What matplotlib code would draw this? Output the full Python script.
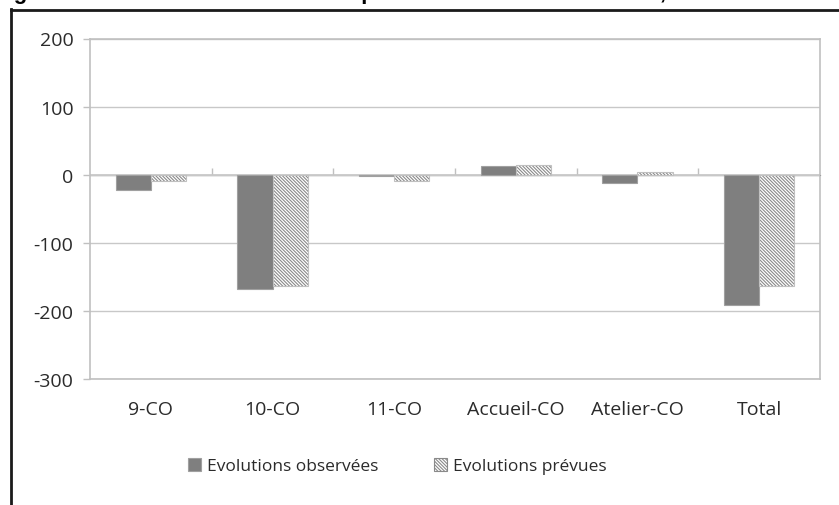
import matplotlib
matplotlib.use("Agg")
import matplotlib.pyplot as plt
from matplotlib.lines import Line2D
from matplotlib.patches import Patch

plt.rcParams['font.family'] = ['Open Sans', 'DejaVu Sans']
plt.rcParams['hatch.linewidth'] = 0.8

categories = ["9-CO", "10-CO", "11-CO", "Accueil-CO", "Atelier-CO", "Total"]
observees = [-23, -168, -2, 13, -12, -192]
prevues = [-9, -164, -9, 14, 4, -163]
y_ticks = [-300, -200, -100, 0, 100, 200]

W, H = 839, 506
fig = plt.figure(figsize=(W / 100, H / 100), dpi=100, facecolor='w')

# titre coupé en haut de l'image (comme sur l'original)
fig.text(-6 / W, 1 + 1 / H, "Figure 3 : Evolutions observées et prévues du nombre d'élèves, 2013",
         fontsize=16, fontweight='bold', family='Liberation Sans',
         ha='left', va='baseline', color='black')

# cadre noir
fig.add_artist(Line2D([10.5 / W, 10.5 / W], [0, 1 - 10 / H], transform=fig.transFigure,
                      color='#1a1a1a', lw=2))
fig.add_artist(Line2D([10.5 / W, 1], [1 - 10.5 / H, 1 - 10.5 / H], transform=fig.transFigure,
                      color='#1a1a1a', lw=2))

ax = fig.add_axes([90 / W, 1 - 380 / H, 730 / W, 340.5 / H])

x = list(range(len(categories)))
w = 0.29
xo = [i - w / 2 for i in x]
xp = [i + w / 2 for i in x]
hatch = '\\' * 10

ax.bar(xo, observees, width=w, color='#7f7f7f', edgecolor='#a0a0a0', lw=0.8, zorder=3)
ax.bar(xp, prevues, width=w, color='white', edgecolor='#8a8a8a', hatch=hatch,
       lw=0, zorder=3)
ax.bar(xp, prevues, width=w, fill=False, edgecolor='#c0c0c0', lw=0.8, zorder=4)

ax.set_xlim(-0.5, len(categories) - 0.5)
ax.set_ylim(y_ticks[0], y_ticks[-1])
ax.set_yticks(y_ticks)
ax.set_yticklabels([str(v) for v in y_ticks])
ax.grid(axis='y', color='#c8c8c8', lw=1, zorder=0)
ax.axhline(0, color='#c8c8c8', lw=1.2, zorder=2)

for s in ax.spines.values():
    s.set_color('#c0c0c0')
    s.set_linewidth(1.2)

ax.tick_params(axis='y', length=5, width=1, color='#c0c0c0', pad=7, labelsize=14,
               labelcolor='#2b2b2b')
ax.set_xticks(x)
ax.set_xticklabels(categories)
ax.tick_params(axis='x', length=0, pad=15, labelsize=14, labelcolor='#2b2b2b')

# petits traits entre catégories sur l'axe 0
y0 = (0 - y_ticks[0]) / (y_ticks[-1] - y_ticks[0])
sec = ax.secondary_xaxis(y0)
sec.set_xticks([i + 0.5 for i in x[:-1]])
sec.set_xticklabels([])
sec.tick_params(axis='x', length=5, width=1, color='#c0c0c0', direction='out')
sec.spines['bottom'].set_visible(False)

handles = [Patch(facecolor='#7f7f7f', edgecolor='#a0a0a0', lw=0.8),
           Patch(facecolor='white', edgecolor='#8a8a8a', hatch=hatch, lw=0.8)]
fig.legend(handles, ["Evolutions observées", "Evolutions prévues"], loc='center',
           bbox_to_anchor=(397 / W, 1 - 467 / H), ncol=2, frameon=False, fontsize=12.5,
           handlelength=0.75, handleheight=0.75, handletextpad=0.35, columnspacing=3.2,
           labelcolor='#2b2b2b')

fig.savefig("out.png", dpi=100)
